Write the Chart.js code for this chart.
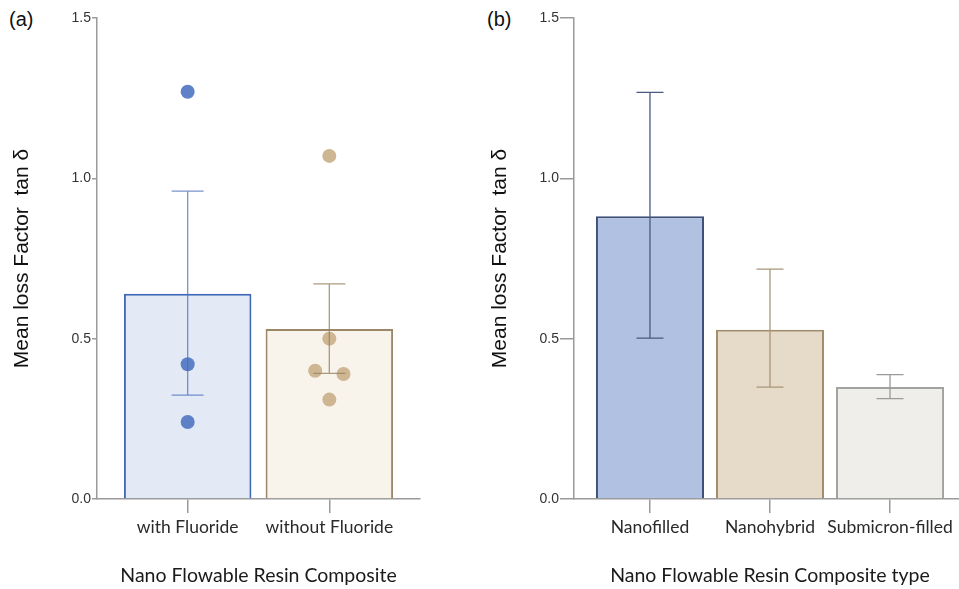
<!DOCTYPE html>
<html>
<head>
<meta charset="utf-8">
<script src="https://cdn.jsdelivr.net/npm/chart.js@4.4.1/dist/chart.umd.min.js"></script>
<style>
  html, body { margin: 0; padding: 0; width: 959px; height: 589px; overflow: hidden; background: #fff; }
  .panel { position: absolute; top: 0; }
  .lbl { position: absolute; font-family: "Liberation Sans", Arial, sans-serif; font-size: 20px; color: #111; }
</style>
</head>
<body>
<div class="lbl" style="left:9px; top:8px;">(a)</div>
<div class="lbl" style="left:487px; top:8px;">(b)</div>
<div class="panel" style="left:0; width:480px; height:589px;"><canvas id="ca" width="480" height="589"></canvas></div>
<div class="panel" style="left:480px; width:486px; height:589px;"><canvas id="cb" width="486" height="589"></canvas></div>
<script>
// ---------- Panel (a) data ----------
const catsA = ['with Fluoride', 'without Fluoride'];
const meanA = [0.64, 0.53];
const errLowA = [0.324, 0.392];
const errHighA = [0.96, 0.671];
const ptsWithF = [1.27, 0.42, 0.24];
const ptsWithFJitter = [0, 0, 0];
const ptsWithoutF = [1.07, 0.50, 0.40, 0.39, 0.31];
const ptsWithoutFJitter = [0, 0, -0.1, 0.1, 0];

// ---------- Panel (b) data ----------
const catsB = ['Nanofilled', 'Nanohybrid', 'Submicron-filled'];
const meanB = [0.882, 0.528, 0.349];
const errLowB = [0.502, 0.349, 0.313];
const errHighB = [1.268, 0.717, 0.388];

const yTicks = [0, 0.5, 1.0, 1.5];
const yTitle = 'Mean loss Factor  tan \u03B4';

const axisColor = '#9a9a9a';

const errorBarPlugin = {
  id: 'errorBars',
  afterDatasetsDraw(chart, args, opts) {
    const ctx = chart.ctx, xs = chart.scales.x, ys = chart.scales.y;
    ctx.save();
    opts.low.forEach((lo, i) => {
      const x = xs.getPixelForValue(i);
      const yl = ys.getPixelForValue(lo), yh = ys.getPixelForValue(opts.high[i]);
      ctx.strokeStyle = opts.colors[i];
      ctx.lineWidth = 1.3;
      ctx.beginPath();
      ctx.moveTo(x, yl); ctx.lineTo(x, yh);
      ctx.moveTo(x - opts.cap / 2, yl); ctx.lineTo(x + opts.cap / 2, yl);
      ctx.moveTo(x - opts.cap / 2, yh); ctx.lineTo(x + opts.cap / 2, yh);
      ctx.stroke();
    });
    ctx.restore();
  }
};

function makeOptions(cats, xmin, xmax, leftW, rightPad, yTickLen, yTitlePad, errOpts) {
  return {
    responsive: false,
    animation: false,
    layout: { padding: { top: 18, right: rightPad, left: 0, bottom: 0 } },
    plugins: { legend: { display: false }, tooltip: { enabled: false }, errorBars: errOpts },
    scales: {
      x: {
        type: 'linear', min: xmin, max: xmax, offset: false, bounds: 'data',
        afterBuildTicks: s => { s.ticks = cats.map((c, i) => ({ value: i })); },
        afterFit: s => { s.height = 90; },
        grid: { offset: false, drawOnChartArea: false, tickLength: 14, color: axisColor, lineWidth: 1.5 },
        border: { color: axisColor, width: 1.5 },
        ticks: {
          autoSkip: false, maxRotation: 0, padding: 4,
          callback: v => cats[v],
          font: { family: 'Lato', size: 17.5 }, color: '#2a2a2a'
        },
        title: {
          display: true, text: '',
          font: { family: 'Lato', size: 19.5 }, color: '#1a1a1a',
          padding: { top: 0, bottom: 2 }
        }
      },
      y: {
        min: 0, max: 1.5,
        afterBuildTicks: s => { s.ticks = yTicks.map(v => ({ value: v })); },
        afterFit: s => { s.width = leftW; },
        grid: { drawOnChartArea: false, tickLength: yTickLen, color: axisColor, lineWidth: 1.5 },
        border: { color: axisColor, width: 1.5 },
        ticks: {
          padding: 1,
          callback: v => v.toFixed(1),
          font: { family: 'Liberation Sans', size: 14 }, color: '#333'
        },
        title: {
          display: true, text: yTitle,
          font: { family: 'Liberation Sans', size: 21 }, color: '#111',
          padding: { top: yTitlePad, bottom: 0 }
        }
      }
    }
  };
}

// ---------- Chart (a) ----------
const optA = makeOptions(catsA, -0.64, 1.64, 97, 60, 5, 10,
  { low: errLowA, high: errHighA, colors: ['rgba(75,110,190,0.75)', 'rgba(150,130,95,0.8)'], cap: 32 });
optA.scales.x.title.text = 'Nano Flowable Resin Composite';
new Chart(document.getElementById('ca'), {
  type: 'bar',
  data: {
    datasets: [
      {
        type: 'bar',
        data: meanA.map((v, i) => ({ x: i, y: v })),
        backgroundColor: ['rgba(222,230,245,0.85)', 'rgba(248,243,235,1)'],
        borderColor: ['#4068b8', '#9a8868'],
        borderWidth: 2,
        borderSkipped: 'bottom',
        barPercentage: 0.9, categoryPercentage: 1.0,
        order: 2
      },
      {
        type: 'scatter',
        data: ptsWithF.map((v, i) => ({ x: 0 + ptsWithFJitter[i], y: v })),
        backgroundColor: 'rgba(85,122,196,0.95)', borderWidth: 0,
        pointRadius: 7, order: 0
      },
      {
        type: 'scatter',
        data: ptsWithoutF.map((v, i) => ({ x: 1 + ptsWithoutFJitter[i], y: v })),
        backgroundColor: 'rgba(200,175,135,0.9)', borderWidth: 0,
        pointRadius: 7, order: 0
      }
    ]
  },
  options: optA,
  plugins: [errorBarPlugin]
});

// ---------- Chart (b) ----------
const optB = makeOptions(catsB, -0.633, 2.633, 94, 0, 14, 8,
  { low: errLowB, high: errHighB, colors: ['#4a5a80', '#a8967a', '#9a9a9a'], cap: 27 });
optB.scales.x.title.text = 'Nano Flowable Resin Composite type';
new Chart(document.getElementById('cb'), {
  type: 'bar',
  data: {
    datasets: [{
      type: 'bar',
      data: meanB.map((v, i) => ({ x: i, y: v })),
      backgroundColor: ['#b0c1e1', '#e6dac8', '#efeeea'],
      borderColor: ['#3e4f78', '#a28e6c', '#a2a29e'],
      borderWidth: 2,
      borderSkipped: 'bottom',
      barPercentage: 0.9, categoryPercentage: 1.0
    }]
  },
  options: optB,
  plugins: [errorBarPlugin]
});
</script>
</body>
</html>
